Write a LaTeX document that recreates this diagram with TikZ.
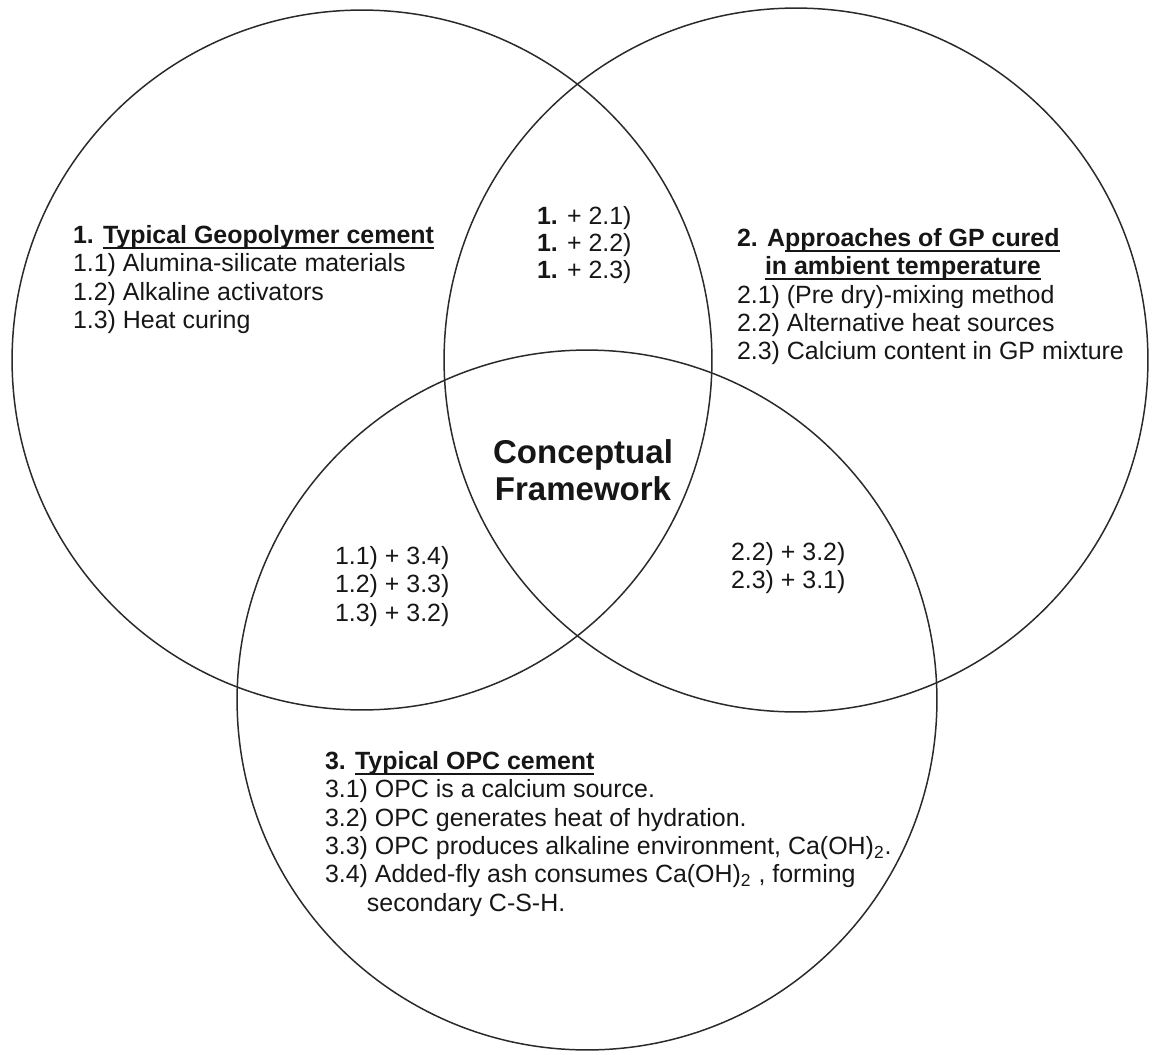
\documentclass[tikz,border=0pt]{standalone}
\usepackage{fontspec}
\setmainfont{Liberation Sans}
\newcommand{\myul}[1]{\setbox0\hbox{#1}\leavevmode\rlap{\rule[-3.2pt]{\wd0}{1pt}}\box0}
\definecolor{ink}{HTML}{161616}
\definecolor{rim}{HTML}{2A2A2A}
\tikzset{
  venn/.style={circle, draw=rim, line width=0.85pt, inner sep=0pt, outer sep=0pt},
  txt/.style={font=\fontsize{14.2}{16.2}\selectfont, text=ink, inner sep=0pt, outer sep=0pt, align=left, anchor=north west},
  tight/.style={font=\fontsize{14.2}{15.4}\selectfont},
  big/.style={font=\bfseries\fontsize{18.8}{21}\selectfont, text=ink, inner sep=0pt, outer sep=0pt, align=center, anchor=north}
}
\begin{document}
\begin{tikzpicture}[x=0.02cm,y=-0.02cm]
\useasboundingbox (0,0) rectangle (1155,1054);
\node[venn, minimum size=14cm] (c1) at (362,360) {};
\node[venn, minimum size=14.08cm] (c2) at (796,360) {};
\node[venn, minimum size=14cm] (c3) at (587,700) {};

\node[txt] (t1) at (73,225) {\textbf{1. \myul{Typical Geopolymer cement}}\\
1.1) Alumina-silicate materials\\
1.2) Alkaline activators\\
1.3) Heat curing};

\node[txt, tight] (t12) at (537,206) {\textbf{1.} + 2.1)\\
\textbf{1.} + 2.2)\\
\textbf{1.} + 2.3)};

\node[txt] (t2) at (737,228) {\textbf{2. A\myul{pproaches of GP cured}}\\
\hspace*{0.56cm}\textbf{\myul{in ambient temperature}}\\
2.1) (Pre dry)-mixing method\\
2.2) Alternative heat sources\\
2.3) Calcium content in GP mixture};

\node[big] (cf) at (583,440) {Conceptual\\Framework};

\node[txt] (t13) at (335,546) {1.1) + 3.4)\\
1.2) + 3.3)\\
1.3) + 3.2)};

\node[txt] (t23) at (731,542) {2.2) + 3.2)\\
2.3) + 3.1)};

\node[txt] (t3) at (325,751) {\textbf{3. \myul{Typical OPC cement}}\\
3.1) OPC is a calcium source.\\
3.2) OPC generates heat of hydration.\\
3.3) OPC produces alkaline environment, Ca(OH)\textsubscript{2}.\\
3.4) Added-fly ash consumes Ca(OH)\textsubscript{2} , forming\\
\hspace*{0.84cm}secondary C-S-H.};
\end{tikzpicture}
\end{document}
